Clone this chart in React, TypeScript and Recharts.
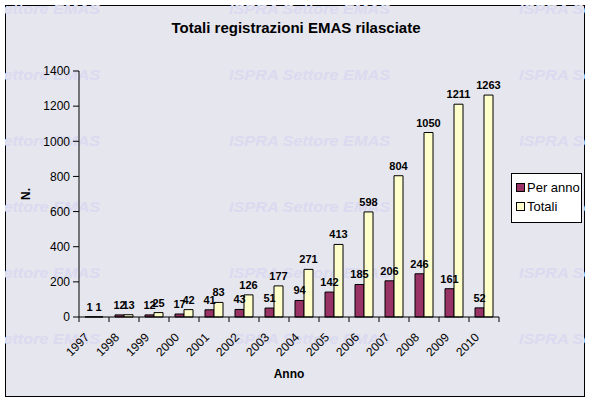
import { BarChart, Bar, XAxis, YAxis, LabelList, Legend } from 'recharts';

const years = ['1997', '1998', '1999', '2000', '2001', '2002', '2003', '2004', '2005', '2006', '2007', '2008', '2009', '2010'];
const perAnno = [1, 12, 12, 17, 41, 43, 51, 94, 142, 185, 206, 246, 161, 52];
const totali = [1, 13, 25, 42, 83, 126, 177, 271, 413, 598, 804, 1050, 1211, 1263];
const yTicks = [0, 200, 400, 600, 800, 1000, 1200, 1400];

const chartData = years.map((anno, i) => ({ anno, perAnno: perAnno[i], totali: totali[i] }));

const FONT = '"Liberation Sans", Arial, sans-serif';
const BG = '#E6E6EE';

// watermark grid of the original picture
const wmRows = [14, 80, 146, 212, 278, 344];
const wmCols = [-61, 229, 519];

const YearTick = (props: any) => {
  const { x, y, payload, index, visibleTicksCount } = props;
  const half = payload?.offset ?? 15;
  const isLast = index === visibleTicksCount - 1;
  const tx = x - 4;
  const ty = y + 21;
  return (
    <g>
      <line x1={x - half} y1={y} x2={x - half} y2={y + 5} stroke="#000" />
      {isLast && <line x1={x + half} y1={y} x2={x + half} y2={y + 5} stroke="#000" />}
      <text
        x={tx}
        y={ty}
        textAnchor="end"
        fontSize={12}
        fontFamily={FONT}
        fill="#000"
        transform={`rotate(-45 ${tx} ${ty})`}
      >
        {payload.value}
      </text>
    </g>
  );
};

const LegendBox = (props: any) => {
  const items = props.payload || [];
  return (
    <div
      style={{
        width: 71,
        height: 50,
        boxSizing: 'border-box',
        border: '1px solid #000',
        background: '#fff',
        padding: '4px 0 0 4px',
        fontFamily: FONT,
        fontSize: 13,
        color: '#000',
      }}
    >
      {items.map((it: any) => (
        <div key={it.value} style={{ display: 'flex', alignItems: 'center', height: 19 }}>
          <span
            style={{
              display: 'inline-block',
              width: 7,
              height: 7,
              background: it.color,
              border: '1px solid #000',
              marginRight: 2,
            }}
          />
          {it.value}
        </div>
      ))}
    </div>
  );
};

export default function App() {
  return (
    <div style={{ position: 'absolute', left: 0, top: 0, width: 591, height: 402, background: '#fff' }}>
      <svg width={591} height={402} style={{ position: 'absolute', left: 0, top: 0 }}>
        <defs>
          <clipPath id="frameClip">
            <rect x={5} y={5} width={580} height={392} />
          </clipPath>
        </defs>
        <rect x={5.5} y={5.5} width={579} height={391} fill={BG} stroke="#000" strokeWidth={1} />
        <g clipPath="url(#frameClip)">
          {wmRows.map((wy) =>
            wmCols.map((wx) => (
              <text
                key={`${wx}-${wy}`}
                x={wx}
                y={wy}
                fontSize={15}
                fontWeight="bold"
                fontStyle="italic"
                fontFamily={FONT}
                fill="#DADAF0"
                textLength={161}
                lengthAdjust="spacingAndGlyphs"
              >
                ISPRA Settore EMAS
              </text>
            ))
          )}
        </g>
        <text x={296} y={33} textAnchor="middle" fontSize={15} fontWeight="bold" fontFamily={FONT} fill="#000">
          Totali registrazioni EMAS rilasciate
        </text>
      </svg>
      <div style={{ position: 'absolute', left: 0, top: 0 }}>
        <BarChart
          width={591}
          height={402}
          data={chartData}
          margin={{ top: 71, right: 92, left: 39, bottom: 35 }}
          barCategoryGap={6}
          barGap={0}
          style={{ fontFamily: FONT }}
        >
          <XAxis
            xAxisId="top"
            orientation="top"
            dataKey="anno"
            height={0}
            tick={false}
            tickLine={false}
            axisLine={{ stroke: '#808080' }}
          />
          <YAxis
            yAxisId="right"
            orientation="right"
            width={0}
            tick={false}
            tickLine={false}
            axisLine={{ stroke: '#808080' }}
            domain={[0, 1400]}
          />
          <XAxis
            dataKey="anno"
            height={50}
            tickLine={false}
            tickSize={0}
            tickMargin={0}
            interval={0}
            axisLine={{ stroke: '#000' }}
            tick={<YearTick />}
            label={{ value: 'Anno', position: 'bottom', offset: 2, fontSize: 12, fontWeight: 'bold', fill: '#000' }}
          />
          <YAxis
            width={40}
            domain={[0, 1400]}
            ticks={yTicks}
            interval={0}
            tickSize={6}
            tickMargin={3}
            axisLine={{ stroke: '#000' }}
            tickLine={{ stroke: '#000' }}
            tick={{ fontSize: 12, fill: '#000' }}
            label={{
              value: 'N.',
              angle: -90,
              position: 'insideLeft',
              offset: -13,
              textAnchor: 'middle',
              fontSize: 12,
              fontWeight: 'bold',
              fill: '#000',
            }}
          />
          <Legend
            layout="horizontal"
            verticalAlign="middle"
            align="center"
            wrapperStyle={{ left: 511, top: 173, width: 71, height: 50 }}
            content={<LegendBox />}
          />
          <Bar dataKey="perAnno" name="Per anno" fill="#993366" stroke="#000" strokeWidth={1} isAnimationActive={false}>
            <LabelList dataKey="perAnno" position="top" offset={6} fontSize={11} fontWeight="bold" fill="#000" />
          </Bar>
          <Bar dataKey="totali" name="Totali" fill="#FFFFCC" stroke="#000" strokeWidth={1} isAnimationActive={false}>
            <LabelList dataKey="totali" position="top" offset={6} fontSize={11} fontWeight="bold" fill="#000" />
          </Bar>
        </BarChart>
      </div>
    </div>
  );
}
